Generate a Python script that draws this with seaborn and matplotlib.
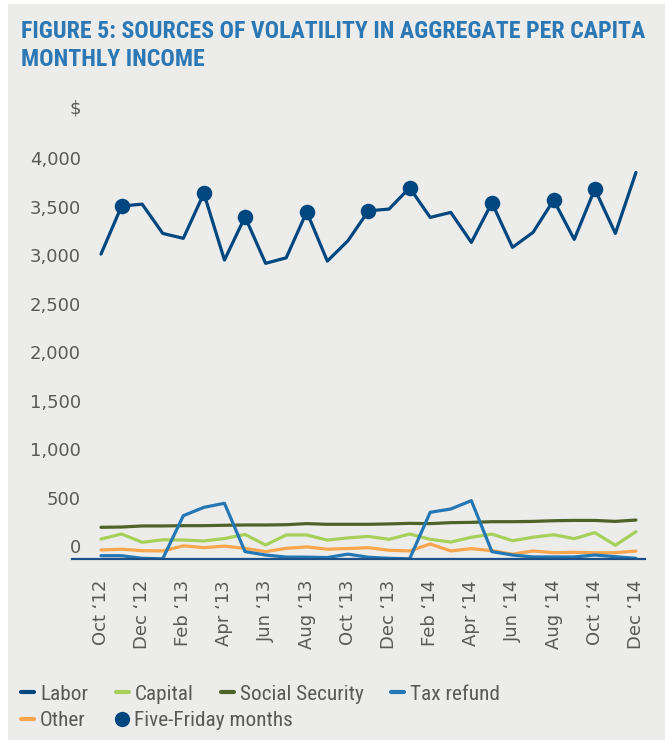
import matplotlib
matplotlib.use("Agg")
import numpy as np
import pandas as pd
import seaborn as sns
import matplotlib.pyplot as plt
from matplotlib.transforms import ScaledTranslation
from matplotlib.lines import Line2D
from matplotlib.patches import Rectangle

# ---------------- data ----------------
months = ["Oct \u201812", "Nov \u201812", "Dec \u201812", "Jan \u201813", "Feb \u201813", "Mar \u201813",
          "Apr \u201813", "May \u201813", "Jun \u201813", "Jul \u201813", "Aug \u201813", "Sep \u201813",
          "Oct \u201813", "Nov \u201813", "Dec \u201813", "Jan \u201814", "Feb \u201814", "Mar \u201814",
          "Apr \u201814", "May \u201814", "Jun \u201814", "Jul \u201814", "Aug \u201814", "Sep \u201814",
          "Oct \u201814", "Nov \u201814", "Dec \u201814"]
labor = [3147, 3642, 3662, 3360, 3309, 3773, 3085, 3531, 3051, 3108, 3583, 3074, 3284, 3593,
         3611, 3831, 3525, 3577, 3267, 3676, 3216, 3371, 3704, 3298, 3817, 3360, 3989]
capital = [206, 258, 172, 198, 196, 186, 211, 253, 144, 248, 248, 195, 218, 233,
           203, 258, 203, 175, 224, 257, 189, 225, 250, 210, 272, 142, 282]
social_security = [327, 330, 341, 341, 344, 344, 348, 351, 351, 354, 365, 358, 358, 358,
                   362, 368, 365, 375, 378, 385, 385, 388, 395, 398, 398, 388, 402]
tax_refund = [34, 34, 7, 2, 447, 533, 575, 76, 41, 20, 19, 15, 50, 18,
              7, 2, 482, 516, 602, 76, 41, 21, 21, 21, 41, 24, 7]
other = [93, 101, 86, 83, 136, 117, 133, 110, 76, 110, 125, 101, 108, 117,
         90, 83, 155, 83, 107, 86, 50, 83, 65, 69, 65, 65, 82]
five_friday = ["Nov \u201812", "Mar \u201813", "May \u201813", "Aug \u201813", "Nov \u201813",
               "Jan \u201814", "May \u201814", "Aug \u201814", "Oct \u201814"]
y_ticks = [0, 500, 1000, 1500, 2000, 2500, 3000, 3500, 4000]

series_names = ["Labor", "Capital", "Social Security", "Tax refund", "Other"]
series_vals = [labor, capital, social_security, tax_refund, other]

# ---------------- style ----------------
BG = "#ececea"
GRAY = "#595959"
NAVY = "#00467f"
colors = {"Labor": NAVY, "Capital": "#a6d05a", "Social Security": "#4f6228",
          "Tax refund": "#2277b4", "Other": "#f9a54e"}
TITLE_C = "#2b78b5"
NARROW = ["Roboto Condensed", "Roboto", "DejaVu Sans"]

sns.set_theme(style="white")
plt.rcParams["font.family"] = ["DejaVu Sans"]

W, H = 665, 741
fig = plt.figure(figsize=(W / 100, H / 100), dpi=100, facecolor="white")
fig.patches.append(Rectangle((8 / W, 1 / H), (W - 8) / W, (H - 5) / H, transform=fig.transFigure,
                             facecolor=BG, edgecolor="none", zorder=-10))

ax = fig.add_axes([72 / W, (H - 559) / H, 573 / W, 407 / H])
ax.patch.set_alpha(0)

idx = list(range(len(months)))
rows = []
for name, vals in zip(series_names, series_vals):
    for i, v in zip(idx, vals):
        rows.append({"idx": i, "value": v, "series": name})
df = pd.DataFrame(rows)

hue_order = ["Capital", "Social Security", "Other", "Tax refund", "Labor"]
sns.lineplot(data=df, x="idx", y="value", hue="series", hue_order=hue_order,
             palette=colors, linewidth=2.3, legend=False, ax=ax, sort=False)

ff_idx = [months.index(m) for m in five_friday]
ff_val = [labor[i] for i in ff_idx]
sns.scatterplot(x=ff_idx, y=ff_val, s=125, color=NAVY, edgecolor=NAVY, linewidth=0,
                zorder=6, ax=ax, legend=False)

ax.set_xlim(-1.41, 26.44)
ax.set_ylim(0, 4200)
ax.set_xlabel("")
ax.set_ylabel("")

ax.set_xticks(idx[::2])
ax.set_xticklabels(months[::2], rotation=90, fontsize=13, color=GRAY)
ax.tick_params(axis="x", length=0, pad=15)

ax.set_yticks(y_ticks)
ax.set_yticklabels([f"{v:,}" for v in y_ticks], fontsize=13, color=GRAY)
ax.tick_params(axis="y", length=0, pad=0)
off = ScaledTranslation(8.7 / 100, 13 / 100, fig.dpi_scale_trans)
for lab in ax.get_yticklabels():
    lab.set_transform(lab.get_transform() + off)

for s in ["left", "top", "right"]:
    ax.spines[s].set_visible(False)
ax.spines["bottom"].set_color("#1d5088")
ax.spines["bottom"].set_linewidth(1.6)
ax.grid(False)

fig.text(75 / W, 1 - 108 / H, "$", ha="center", va="center", fontsize=13, color=GRAY)

fig.text(21 / W, 1 - 31 / H, "FIGURE 5: SOURCES OF VOLATILITY IN AGGREGATE PER CAPITA",
         fontsize=17.2, fontweight="bold", family=NARROW, color=TITLE_C, va="center", ha="left")
fig.text(21 / W, 1 - 60 / H, "MONTHLY INCOME",
         fontsize=17.2, fontweight="bold", family=NARROW, color=TITLE_C, va="center", ha="left")

# legend
leg_kw = dict(frameon=False, loc="center left", handlelength=0.61, handletextpad=0.28,
              columnspacing=1.3, borderaxespad=0, borderpad=0, labelcolor=GRAY,
              prop={"family": NARROW, "size": 15.3})
h1 = [Line2D([], [], color=colors[n], lw=3) for n in ["Labor", "Capital", "Social Security", "Tax refund"]]
fig.legend(h1, ["Labor", "Capital", "Social Security", "Tax refund"], ncol=4,
           bbox_to_anchor=(21 / W, 1 - 694 / H), **leg_kw)
h2 = [Line2D([], [], color=colors["Other"], lw=3),
      Line2D([], [], color=NAVY, marker="o", ls="", ms=10)]
fig.legend(h2, ["Other", "Five-Friday months"], ncol=2,
           bbox_to_anchor=(21 / W, 1 - 721 / H), **{**leg_kw, "columnspacing": 1.4})

fig.savefig("out.png", dpi=100, facecolor=fig.get_facecolor())
